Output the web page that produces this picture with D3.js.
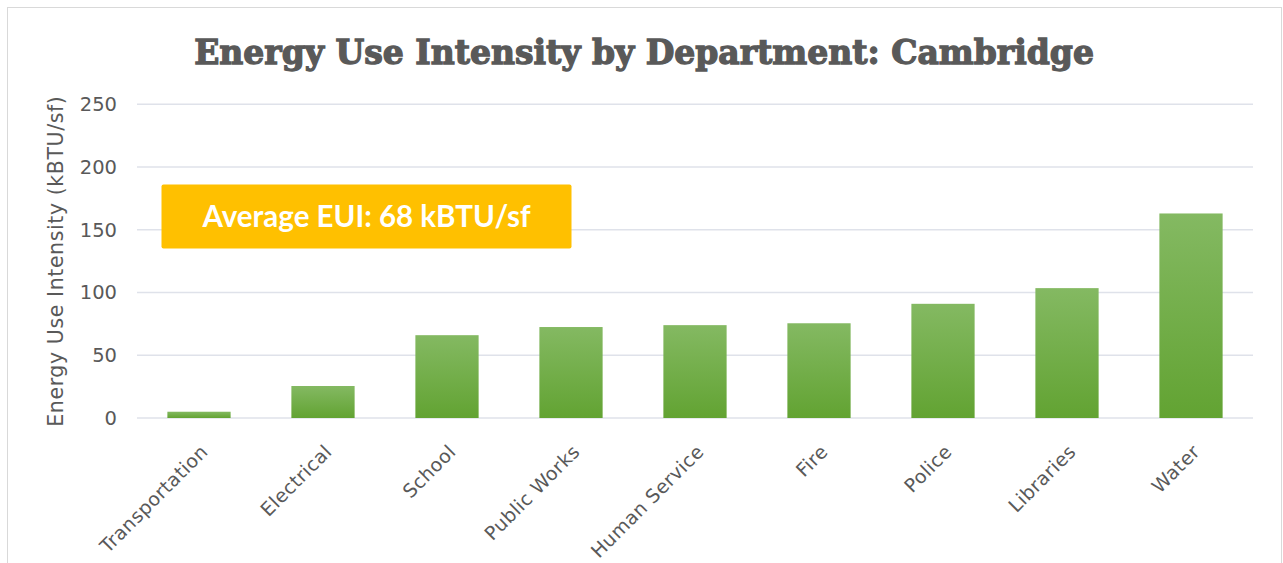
<!DOCTYPE html>
<html><head><meta charset="utf-8">
<script src="https://cdn.jsdelivr.net/npm/d3@7"></script>
<style>body{margin:0;background:#fff;}svg{display:block;}</style>
</head><body>
<svg id="c" width="1283" height="563"></svg>
<script>
const categories = ["Transportation","Electrical","School","Public Works","Human Service","Fire","Police","Libraries","Water"];
const values = [5, 25.5, 66, 72.5, 74, 75.5, 91, 103.5, 163];
const yTicks = [0, 50, 100, 150, 200, 250];
const titleText = "Energy Use Intensity by Department: Cambridge";
const yTitle = "Energy Use Intensity (kBTU/sf)";
const noteText = "Average EUI: 68 kBTU/sf";

const svg = d3.select("#c");
const m = {left:137, right:1253, top:104.3, bottom:418};
const font = "'DejaVu Sans', sans-serif";

// frame
svg.append("rect").attr("x",7.5).attr("y",7.5).attr("width",1274).attr("height",600)
  .attr("fill","#fff").attr("stroke","#d9d9d9").attr("stroke-width",1);

const defs = svg.append("defs");
const g = defs.append("linearGradient").attr("id","bg").attr("x1",0).attr("y1",0).attr("x2",0).attr("y2",1);
g.append("stop").attr("offset","0%").attr("stop-color","#84b962");
g.append("stop").attr("offset","100%").attr("stop-color","#62a332");

const x = d3.scaleBand().domain(categories).range([m.left, m.right]).paddingInner(0.49).paddingOuter(0.245);
const y = d3.scaleLinear().domain([0,250]).range([m.bottom, m.top]);

// gridlines
svg.append("g").selectAll("line").data(yTicks).join("line")
  .attr("x1",m.left).attr("x2",m.right).attr("y1",d=>y(d)).attr("y2",d=>y(d))
  .attr("stroke","#dfe2ea").attr("stroke-width",1.5);

// y axis labels
const yAxis = d3.axisLeft(y).tickValues(yTicks).tickSize(0).tickPadding(0);
const ya = svg.append("g").attr("transform",`translate(117,0)`).call(yAxis);
ya.select(".domain").remove();
ya.selectAll("text").attr("font-family",font).attr("font-size",19.5).attr("fill","#595959");

// bars
svg.append("g").selectAll("rect").data(values).join("rect")
  .attr("x",(d,i)=>x(categories[i])).attr("width",x.bandwidth())
  .attr("y",d=>y(d)).attr("height",d=>y(0)-y(d)).attr("fill","url(#bg)");

// x labels
const xAxis = d3.axisBottom(x).tickSize(0).tickPadding(0);
const xa = svg.append("g").call(xAxis);
xa.select(".domain").remove();
xa.selectAll(".tick").attr("transform",d=>`translate(${x(d)+x.bandwidth()/2+10},453)`);
xa.selectAll("text").attr("font-family",font).attr("font-size",19).attr("fill","#595959")
  .attr("text-anchor","end").attr("dy",0).attr("y",0).attr("letter-spacing",0.4).attr("transform","rotate(-45)");

// y title
svg.append("text").attr("transform",`translate(63,${(m.top+m.bottom)/2}) rotate(-90)`)
  .attr("text-anchor","middle").attr("font-family",font).attr("font-size",20.5).attr("fill","#595959")
  .attr("letter-spacing",0.6).text(yTitle);

// title
svg.append("text").attr("x",644).attr("y",64).attr("text-anchor","middle")
  .attr("font-family","'DejaVu Serif', serif").attr("font-weight","bold").attr("font-size",33)
  .attr("fill","#595959").attr("stroke","#595959").attr("stroke-width",1.3).text(titleText);

// note box
svg.append("rect").attr("x",161.5).attr("y",184.5).attr("width",410).attr("height",64).attr("rx",2)
  .attr("fill","#ffc000");
svg.append("text").attr("x",366.5).attr("y",227).attr("text-anchor","middle")
  .attr("font-family","Lato, sans-serif").attr("font-weight","bold").attr("font-size",29.5).attr("fill","#fff")
  .text(noteText);
</script>
</body></html>
